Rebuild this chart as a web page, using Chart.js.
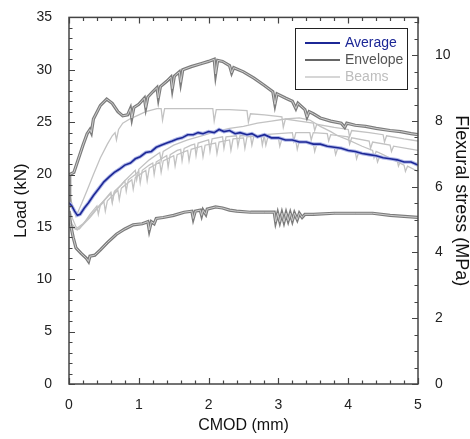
<!DOCTYPE html>
<html lang="en">
<head>
  <meta charset="UTF-8" />
  <title>Load / flexural stress vs CMOD</title>
  <script src="https://cdn.jsdelivr.net/npm/chart.js"></script>
  <style>
    body {
      margin: 0;
      padding: 0;
      background: #ffffff;
    }
    canvas {
      display: block;
    }
  </style>
</head>
<body>
  <canvas id="cmodChart" width="470" height="439"></canvas>

<script>
  // Average of the beams
  const avgX = [0, 0.04, 0.08, 0.12, 0.16, 0.22, 0.28, 0.35, 0.42, 0.5, 0.58, 0.65, 0.72, 0.8, 0.88, 0.95,
    1.02, 1.1, 1.18, 1.25, 1.32, 1.4, 1.48, 1.55, 1.62, 1.7, 1.78, 1.85, 1.92, 2.0, 2.08, 2.15, 2.22, 2.3,
    2.38, 2.45, 2.55, 2.62, 2.7, 2.8, 2.9, 3.0, 3.1, 3.2, 3.3, 3.4, 3.5, 3.6, 3.7, 3.8, 3.9, 4.0, 4.1, 4.2,
    4.3, 4.4, 4.5, 4.6, 4.7, 4.8, 4.9, 5.0];
  const avgY = [17.3, 17.0, 16.5, 16.1, 16.2, 16.8, 17.3, 18.0, 18.6, 19.3, 19.8, 20.2, 20.5, 20.9, 21.1, 21.5,
    21.7, 22.1, 22.2, 22.6, 22.8, 23.0, 23.2, 23.4, 23.5, 23.8, 23.8, 24.0, 23.9, 24.1, 24.0, 24.3, 24.1, 24.2,
    23.9, 24.0, 23.8, 23.9, 23.6, 23.8, 23.5, 23.5, 23.3, 23.3, 23.1, 23.1, 22.9, 22.9, 22.7, 22.6, 22.5, 22.3,
    22.2, 22.0, 21.9, 21.8, 21.6, 21.5, 21.4, 21.2, 21.2, 20.9];

  // Envelope, upper branch
  const envHiX = [0, 0.01, 0.07, 0.12, 0.2, 0.26, 0.3, 0.32, 0.35, 0.45, 0.54, 0.62, 0.7, 0.77, 0.84, 0.88,
    0.9, 0.93, 1.0, 1.08, 1.1, 1.13, 1.2, 1.26, 1.28, 1.31, 1.4, 1.46, 1.48, 1.51, 1.58, 1.6, 1.63, 1.75,
    1.9, 2.0, 2.08, 2.1, 2.13, 2.2, 2.3, 2.33, 2.36, 2.5, 2.65, 2.8, 2.92, 2.95, 2.98, 3.1, 3.2, 3.25, 3.28,
    3.38, 3.41, 3.44, 3.5, 3.6, 3.75, 3.9, 3.95, 3.98, 4.1, 4.25, 4.4, 4.6, 4.75, 4.9, 5.0];
  const envHiY = [17.0, 20.0, 20.2, 21.2, 22.8, 23.9, 24.3, 24.0, 25.3, 26.6, 27.2, 26.8, 26.0, 25.6, 25.7, 26.3,
    25.4, 26.4, 26.7, 27.3, 26.4, 27.4, 27.9, 28.3, 27.3, 28.4, 28.9, 29.3, 28.2, 29.4, 29.8, 28.8, 30.0, 30.3,
    30.6, 30.8, 31.0, 29.6, 30.9, 30.8, 30.4, 29.7, 30.2, 29.8, 29.2, 28.5, 27.9, 26.7, 27.7, 27.3, 27.0, 26.3, 26.8,
    26.2, 25.5, 26.0, 25.8, 25.4, 25.1, 24.9, 24.5, 24.9, 24.7, 24.6, 24.4, 24.2, 24.1, 23.9, 23.8];

  // Envelope, lower branch
  const envLoX = [0, 0.02, 0.06, 0.1, 0.17, 0.25, 0.28, 0.3, 0.37, 0.45, 0.55, 0.68, 0.8, 0.92, 1.05, 1.13,
    1.15, 1.18, 1.22, 1.25, 1.35, 1.5, 1.65, 1.76, 1.78, 1.81, 1.88, 1.9, 1.92, 1.96, 1.98, 2.1, 2.2, 2.3,
    2.4, 2.6, 2.8, 2.94, 2.96, 2.99, 3.02, 3.05, 3.08, 3.11, 3.14, 3.17, 3.2, 3.23, 3.27, 3.3, 3.34, 3.38,
    3.5, 3.8, 4.1, 4.35, 4.6, 4.8, 5.0];
  const envLoY = [16.5, 15.3, 14.0, 13.0, 12.5, 12.0, 11.7, 12.2, 12.3, 12.8, 13.5, 14.3, 14.8, 15.2, 15.3, 15.5,
    14.7, 15.5, 15.3, 15.8, 15.9, 16.1, 16.4, 16.5, 15.8, 16.5, 16.6, 16.1, 16.6, 16.2, 16.7, 16.9, 16.8, 16.6,
    16.5, 16.4, 16.4, 16.4, 15.5, 16.3, 15.5, 16.3, 15.5, 16.3, 15.6, 16.3, 15.6, 16.3, 15.7, 16.3, 15.9, 16.2,
    16.2, 16.3, 16.3, 16.3, 16.1, 16.0, 15.9];

  // Individual beams
  const beam1X = [0, 0.05, 0.1, 0.18, 0.26, 0.35, 0.45, 0.55, 0.62, 0.66, 0.68, 0.71, 0.77, 0.87, 0.97, 1.1,
    1.26, 1.32, 1.34, 1.37, 1.6, 1.85, 2.06, 2.08, 2.11, 2.3, 2.55, 2.57, 2.6, 2.8, 3.05, 3.07, 3.1, 3.3,
    3.5, 3.52, 3.55, 3.8, 4.0, 4.02, 4.05, 4.3, 4.5, 4.52, 4.55, 4.8, 5.0];
  const beam1Y = [18.3, 17.0, 16.0, 17.2, 18.5, 20.0, 21.6, 22.9, 23.7, 24.0, 23.3, 24.3, 24.9, 25.3, 25.6, 26.0,
    26.3, 26.3, 25.2, 26.3, 26.3, 26.3, 26.3, 25.1, 26.2, 26.2, 26.1, 25.0, 25.8, 25.7, 25.5, 24.5, 25.3, 25.1,
    24.9, 24.2, 24.8, 24.5, 24.3, 23.6, 24.2, 24.0, 23.8, 23.1, 23.7, 23.4, 23.2];

  const beam2X = [0, 0.05, 0.1, 0.2, 0.3, 0.4, 0.5, 0.6, 0.62, 0.65, 0.8, 0.95, 0.97, 1.0, 1.15, 1.3, 1.32,
    1.35, 1.5, 1.7, 1.9, 2.1, 2.3, 2.5, 2.7, 2.9, 3.1, 3.3, 3.45, 3.6, 3.75, 3.85, 4.0, 4.2, 4.35, 4.37, 4.4,
    4.5, 4.65, 4.8, 4.82, 4.85, 5.0];
  const beam2Y = [16.0, 15.2, 14.8, 15.3, 16.0, 16.8, 17.5, 18.2, 17.4, 18.3, 19.4, 20.4, 19.5, 20.5, 21.4, 22.1, 21.3,
    22.2, 22.8, 23.3, 23.7, 24.1, 24.4, 24.6, 24.9, 25.1, 25.3, 25.4, 25.2, 24.6, 24.1, 23.7, 23.3, 22.7, 22.3, 21.6, 22.2,
    21.9, 21.4, 20.9, 20.3, 20.8, 20.3];

  const beam3X = [0, 0.05, 0.1, 0.15, 0.22, 0.3, 0.4, 0.42, 0.45, 0.55, 0.6, 0.62, 0.65, 0.75, 0.8, 0.82, 0.85,
    0.95, 1.0, 1.02, 1.05, 1.15, 1.2, 1.22, 1.25, 1.35, 1.4, 1.42, 1.45, 1.55, 1.6, 1.62, 1.65, 1.75, 1.8, 1.82,
    1.85, 1.95, 2.0, 2.02, 2.05, 2.2, 2.22, 2.25, 2.4, 2.42, 2.45, 2.6, 2.62, 2.65, 2.8, 2.82, 2.85, 3.0, 3.02,
    3.05, 3.25, 3.27, 3.3, 3.5, 3.52, 3.55, 3.8, 3.82, 3.85, 4.1, 4.12, 4.15, 4.4, 4.42, 4.45, 4.7, 4.72, 4.75, 5.0];
  const beam3Y = [16.8, 15.8, 15.0, 14.8, 15.4, 16.2, 17.0, 16.2, 17.1, 17.9, 18.3, 17.3, 18.4, 19.0, 19.4, 18.4, 19.5,
    20.0, 20.3, 19.2, 20.4, 20.9, 21.1, 20.0, 21.2, 21.6, 21.8, 20.7, 21.9, 22.3, 22.4, 21.3, 22.5, 22.8, 22.9, 21.8,
    23.0, 23.2, 23.3, 22.2, 23.4, 23.6, 22.5, 23.6, 23.7, 22.7, 23.7, 23.7, 22.8, 23.7, 23.6, 22.8, 23.6, 23.5, 22.7,
    23.4, 23.2, 22.4, 23.2, 23.0, 22.2, 22.9, 22.6, 21.9, 22.5, 22.2, 21.5, 22.1, 21.8, 21.2, 21.7, 21.4, 20.8, 21.3, 21.0];

  const beam4X = [0, 0.06, 0.12, 0.2, 0.3, 0.4, 0.5, 0.52, 0.55, 0.7, 0.72, 0.75, 0.9, 0.92, 0.95, 1.1, 1.12,
    1.15, 1.3, 1.32, 1.35, 1.5, 1.52, 1.55, 1.7, 1.72, 1.75, 1.9, 1.92, 1.95, 2.1, 2.12, 2.15, 2.3, 2.32, 2.35,
    2.5, 2.52, 2.55, 2.75, 2.77, 2.8, 3.0, 3.2, 3.22, 3.25, 3.45, 3.47, 3.5, 3.7, 3.72, 3.75, 4.0, 4.02, 4.05,
    4.3, 4.32, 4.35, 4.6, 4.62, 4.65, 5.0];
  const beam4Y = [15.6, 14.9, 14.7, 15.2, 15.9, 16.7, 17.4, 16.5, 17.5, 18.5, 17.6, 18.7, 19.5, 18.6, 19.7, 20.4, 19.4,
    20.6, 21.2, 20.2, 21.3, 21.8, 20.8, 21.9, 22.3, 21.3, 22.4, 22.7, 21.7, 22.8, 23.0, 22.0, 23.1, 23.3, 22.3, 23.4,
    23.5, 22.5, 23.6, 23.7, 22.8, 23.8, 23.9, 24.0, 23.2, 24.0, 24.0, 23.3, 24.0, 23.9, 23.2, 23.8, 23.6, 22.9, 23.5,
    23.2, 22.5, 23.1, 22.8, 22.2, 22.7, 22.3];

  // Axes
  const xTicks = [0, 1, 2, 3, 4, 5];
  const loadTicks = [0, 5, 10, 15, 20, 25, 30, 35];
  const stressTicks = [0, 2, 4, 6, 8, 10];
  const stressMax = 11.15;   // right axis top matching 35 kN

  const legendLabels = ['Average', 'Envelope', 'Beams'];

  const FONT = '"Liberation Sans", Arial, sans-serif';

  function pts(xs, ys) {
    return xs.map((x, i) => ({ x: x, y: ys[i] }));
  }

  function line(data, color, width) {
    return {
      data: data,
      borderColor: color,
      borderWidth: width,
      pointRadius: 0,
      tension: 0,
      fill: false,
      yAxisID: 'y'
    };
  }

  const BLUE = '#1c2796';
  const ENV_DARK = '#7c7c7c';
  const BEAM = '#c2c2c2';

  // first dataset is painted on top
  const datasets = [
    line(pts(avgX, avgY), BLUE, 1.6),
    line(pts(avgX, avgY), '#b0b8e8', 3.6),
    line(pts(envHiX, envHiY), '#cdcdcd', 1),
    line(pts(envHiX, envHiY), ENV_DARK, 3.2),
    line(pts(envLoX, envLoY), '#cdcdcd', 1),
    line(pts(envLoX, envLoY), ENV_DARK, 3.2),
    line(pts(beam1X, beam1Y), BEAM, 1.3),
    line(pts(beam2X, beam2Y), BEAM, 1.3),
    line(pts(beam3X, beam3Y), BEAM, 1.3),
    line(pts(beam4X, beam4Y), BEAM, 1.3)
  ];

  // frame with inward major / minor ticks on all four sides
  const frameTicks = {
    id: 'frameTicks',
    afterDatasetsDraw(chart) {
      const { ctx, chartArea: a, scales } = chart;
      const x = scales.x, y = scales.y, y2 = scales.y2;
      ctx.save();
      ctx.strokeStyle = '#444';
      ctx.lineWidth = 1.2;
      ctx.beginPath();
      for (let v = 0; v <= 5.001; v += 0.2) {
        const major = Math.abs(v - Math.round(v)) < 0.01;
        const len = major ? 6 : 3.5;
        const px = Math.round(x.getPixelForValue(v)) + 0.5;
        ctx.moveTo(px, a.bottom); ctx.lineTo(px, a.bottom - len);
        ctx.moveTo(px, a.top); ctx.lineTo(px, a.top + len);
      }
      for (let v = 0; v <= 35.001; v += 1) {
        const len = v % 5 === 0 ? 6 : 3.5;
        const py = Math.round(y.getPixelForValue(v)) + 0.5;
        ctx.moveTo(a.left, py); ctx.lineTo(a.left + len, py);
      }
      for (let v = 0; v <= stressMax; v += 0.5) {
        const len = v % 2 === 0 ? 6 : 3.5;
        const py = Math.round(y2.getPixelForValue(v)) + 0.5;
        ctx.moveTo(a.right, py); ctx.lineTo(a.right - len, py);
      }
      ctx.stroke();
      ctx.lineWidth = 1.5;
      ctx.strokeRect(a.left, a.top, a.right - a.left, a.bottom - a.top);
      ctx.restore();
    }
  };

  // legend box in the upper right of the plot
  const boxLegend = {
    id: 'boxLegend',
    afterDraw(chart) {
      const ctx = chart.ctx;
      const lines = [
        { color: BLUE, width: 2, text: '#1c2796' },
        { color: '#666', width: 2, text: '#555' },
        { color: '#c8c8c8', width: 1.5, text: '#bdbdbd' }
      ];
      ctx.save();
      ctx.fillStyle = '#fff';
      ctx.fillRect(295, 28, 112, 61);
      ctx.strokeStyle = '#222';
      ctx.lineWidth = 1;
      ctx.strokeRect(295.5, 28.5, 112, 61);
      ctx.font = '14px ' + FONT;
      ctx.textBaseline = 'middle';
      lines.forEach((l, i) => {
        const yy = 43 + i * 17;
        ctx.strokeStyle = l.color;
        ctx.lineWidth = l.width;
        ctx.beginPath();
        ctx.moveTo(305, yy);
        ctx.lineTo(340, yy);
        ctx.stroke();
        ctx.fillStyle = l.text;
        ctx.fillText(legendLabels[i], 345, yy);
      });
      ctx.restore();
    }
  };

  const tickFont = { family: FONT, size: 14 };

  new Chart(document.getElementById('cmodChart'), {
    type: 'line',
    data: { datasets: datasets },
    options: {
      responsive: false,
      animation: false,
      layout: { padding: { top: 17, left: 0, right: 0, bottom: 0 } },
      plugins: {
        legend: { display: false },
        tooltip: { enabled: false }
      },
      scales: {
        x: {
          type: 'linear',
          min: 0,
          max: 5,
          grid: { display: false },
          border: { display: false },
          afterBuildTicks: (s) => { s.ticks = xTicks.map(v => ({ value: v })); },
          ticks: { font: tickFont, color: '#222', padding: 5, maxRotation: 0 },
          title: { display: true, text: 'CMOD (mm)', font: { family: FONT, size: 16 }, color: '#111', padding: { top: 0, bottom: 4 } },
          afterFit: (s) => { s.height = 55; }
        },
        y: {
          type: 'linear',
          position: 'left',
          min: 0,
          max: 35,
          grid: { display: false },
          border: { display: false },
          afterBuildTicks: (s) => { s.ticks = loadTicks.map(v => ({ value: v })); },
          ticks: { font: tickFont, color: '#222', padding: 9 },
          title: { display: true, text: 'Load (kN)', font: { family: FONT, size: 17 }, color: '#111', padding: { top: 11, bottom: 0 } },
          afterFit: (s) => { s.width = 69; }
        },
        y2: {
          type: 'linear',
          position: 'right',
          min: 0,
          max: stressMax,
          grid: { display: false },
          border: { display: false },
          afterBuildTicks: (s) => { s.ticks = stressTicks.map(v => ({ value: v })); },
          ticks: { font: tickFont, color: '#222', padding: 9 },
          title: { display: true, text: 'Flexural stress (MPa)', font: { family: FONT, size: 18 }, color: '#111', padding: { top: -2, bottom: 0 } },
          afterFit: (s) => { s.width = 52; }
        }
      }
    },
    plugins: [frameTicks, boxLegend]
  });
</script>
</body>
</html>
